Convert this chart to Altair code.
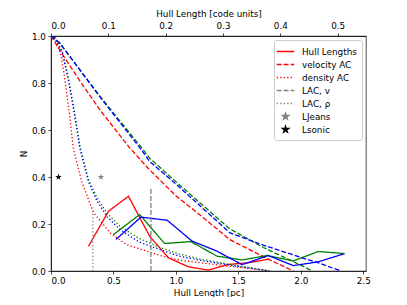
import altair as alt
import pandas as pd

FONT = "DejaVu Sans"

# ---------------- data ----------------
# Hull length distributions (solid)
hull_red_x = [0.30, 0.46, 0.62, 0.79, 0.94, 1.10, 1.26, 1.42, 1.58, 1.74]
hull_red_n = [0.105, 0.254, 0.318, 0.148, 0.056, 0.018, 0.004, 0.028, 0.035, 0.050]
hull_green_x = [0.50, 0.71, 0.91, 1.12, 1.33, 1.53, 1.73, 1.94, 2.14, 2.35]
hull_green_n = [0.155, 0.240, 0.117, 0.125, 0.063, 0.047, 0.066, 0.043, 0.083, 0.074]
hull_blue_x = [0.52, 0.72, 0.93, 1.13, 1.33, 1.53, 1.74, 1.94, 2.14, 2.35]
hull_blue_n = [0.134, 0.229, 0.216, 0.127, 0.084, 0.027, 0.066, 0.023, 0.039, 0.074]

# velocity autocorrelation (dashed)
vel_red_x = [0.0, 0.10, 0.23, 0.40, 0.63, 0.79, 1.00, 1.22, 1.43, 1.60, 1.80, 1.94]
vel_red_n = [1.0, 0.915, 0.81, 0.68, 0.524, 0.43, 0.32, 0.227, 0.134, 0.088, 0.035, 0.0]
vel_green_x = [0.0, 0.07, 0.39, 0.71, 0.79, 1.00, 1.33, 1.43, 1.70, 2.00, 2.09]
vel_green_n = [1.0, 0.97, 0.745, 0.535, 0.48, 0.38, 0.226, 0.18, 0.10, 0.025, 0.0]
vel_blue_x = [0.0, 0.07, 0.39, 0.71, 0.79, 1.00, 1.33, 1.43, 1.70, 2.00, 2.15, 2.32]
vel_blue_n = [1.0, 0.97, 0.742, 0.525, 0.466, 0.37, 0.212, 0.163, 0.11, 0.058, 0.033, 0.0]

# density autocorrelation (dotted)
den_red_x = [0.0, 0.03, 0.08, 0.112, 0.15, 0.179, 0.246, 0.339, 0.473, 0.607, 0.873, 1.03, 1.20, 1.43, 1.60, 1.75]
den_red_n = [1.0, 0.99, 0.92, 0.813, 0.66, 0.52, 0.38, 0.25, 0.162, 0.112, 0.066, 0.046, 0.035, 0.02, 0.01, 0.0]
den_green_x = [0.0, 0.03, 0.09, 0.14, 0.19, 0.232, 0.30, 0.37, 0.45, 0.553, 0.70, 0.873, 1.03, 1.20, 1.43, 1.60, 1.75]
den_green_n = [1.0, 0.995, 0.935, 0.82, 0.67, 0.53, 0.39, 0.31, 0.245, 0.19, 0.14, 0.10, 0.072, 0.05, 0.028, 0.014, 0.0]
den_blue_x = [0.0, 0.03, 0.09, 0.139, 0.19, 0.232, 0.30, 0.366, 0.45, 0.553, 0.70, 0.873, 1.03, 1.20, 1.43, 1.60, 1.75]
den_blue_n = [1.0, 0.995, 0.93, 0.813, 0.66, 0.52, 0.38, 0.30, 0.23, 0.176, 0.125, 0.091, 0.063, 0.045, 0.025, 0.012, 0.0]

# characteristic lengths
lac_names = ["LAC, v", "LAC, ρ"]
lac_x = [0.80, 0.335]
lac_top = [0.35, 0.27]
star_names = ["LJeans", "Lsonic"]
star_x = [0.40, 0.06]
star_n = [0.40, 0.40]

# axes
x_max_pc = 2.522
x_max_code = 0.5494
x_ticks = [0.0, 0.5, 1.0, 1.5, 2.0, 2.5]
top_ticks = [0.0, 0.1, 0.2, 0.3, 0.4, 0.5]
y_ticks = [0.0, 0.2, 0.4, 0.6, 0.8, 1.0]

entries = ["Hull Lengths", "velocity AC", "density AC", "LAC, v", "LAC, ρ", "LJeans", "Lsonic"]

# ---------------- styles ----------------
RED, GREEN, BLUE, GRAY, BLACK = "#ff0000", "#008000", "#0000ff", "#808080", "#000000"
SOLID, DASHED, DOTTED = [1, 0], [4.9, 2.1], [1.3, 2.2]
LW = 1.3
LINE_PATH = "M-1.6,0L1.6,0"
s = 0.6
star_pts = [(0, -1), (0.2245, -0.309), (0.951, -0.309), (0.363, 0.118), (0.588, 0.809),
            (0, 0.382), (-0.588, 0.809), (-0.363, 0.118), (-0.951, -0.309), (-0.2245, -0.309)]
STAR_PATH = "M" + "L".join(f"{px*s:.4f},{py*s:.4f}" for px, py in star_pts) + "Z"

entry_colors = [RED, RED, RED, GRAY, GRAY, GRAY, BLACK]
entry_dashes = [SOLID, DASHED, DOTTED, DASHED, DOTTED, SOLID, SOLID]
entry_shapes = [LINE_PATH] * 5 + [STAR_PATH] * 2


def frame(xs, ns, entry):
    return pd.DataFrame({"x": xs, "N": ns, "entry": entry})


xscale = alt.Scale(domain=[0, x_max_pc], nice=False, zero=False)
yscale = alt.Scale(domain=[0, 1], nice=False, zero=False)
X = alt.X("x:Q", scale=xscale,
          axis=alt.Axis(title="Hull Length [pc]", values=x_ticks, format=".1f"))
Y = alt.Y("N:Q", scale=yscale,
          axis=alt.Axis(title="N", values=y_ticks, format=".1f"))

legend = alt.Legend(
    orient="top-right", offset=4, padding=5, rowPadding=1,
    symbolSize=121, symbolStrokeWidth=LW, labelOffset=10,
    labelFontSize=8.8, labelFont=FONT, labelColor="black",
    strokeColor="#cccccc", fillColor="rgba(255,255,255,0.8)", cornerRadius=2.5,
)
color_enc = alt.Color("entry:N", title=None,
                      scale=alt.Scale(domain=entries, range=entry_colors), legend=legend)
dash_enc = alt.StrokeDash("entry:N", title=None,
                          scale=alt.Scale(domain=entries, range=entry_dashes), legend=legend)
shape_enc = alt.Shape("entry:N", title=None,
                      scale=alt.Scale(domain=entries, range=entry_shapes), legend=legend)

red_df = pd.concat([
    frame(hull_red_x, hull_red_n, "Hull Lengths"),
    frame(vel_red_x, vel_red_n, "velocity AC"),
    frame(den_red_x, den_red_n, "density AC"),
])
red = alt.Chart(red_df).mark_line(strokeWidth=LW, clip=True).encode(
    x=X, y=Y, color=color_enc, strokeDash=dash_enc)


def plain(xs, ns, col, dash):
    return alt.Chart(frame(xs, ns, "")).mark_line(
        color=col, strokeDash=dash, strokeWidth=LW, clip=True).encode(x=X, y=Y)


greens = [plain(hull_green_x, hull_green_n, GREEN, SOLID),
          plain(vel_green_x, vel_green_n, GREEN, DASHED),
          plain(den_green_x, den_green_n, GREEN, DOTTED)]
blues = [plain(hull_blue_x, hull_blue_n, BLUE, SOLID),
         plain(vel_blue_x, vel_blue_n, BLUE, DASHED),
         plain(den_blue_x, den_blue_n, BLUE, DOTTED)]

rule_df = pd.DataFrame({"x": lac_x, "N": [0.0, 0.0], "N2": lac_top, "entry": lac_names})
rules = alt.Chart(rule_df).mark_rule(strokeWidth=LW).encode(
    x=X, y=Y, y2="N2:Q", color=color_enc, strokeDash=dash_enc)

star_df = pd.DataFrame({"x": star_x, "N": star_n, "entry": star_names})
stars = alt.Chart(star_df).mark_point(filled=True, size=130, opacity=1, strokeWidth=0).encode(
    x=X, y=Y, color=color_enc, shape=shape_enc)

main = alt.layer(red, *greens, *blues, rules, stars)

top_df = pd.DataFrame({"cu": [0.0, x_max_code]})
top = alt.Chart(top_df).mark_point(opacity=0).encode(
    x=alt.X("cu:Q", scale=alt.Scale(domain=[0, x_max_code], nice=False, zero=False),
            axis=alt.Axis(orient="top", title="Hull Length [code units]",
                          values=top_ticks, format=".1f")))

chart = alt.layer(main, top).resolve_scale(x="independent").properties(
    width=315, height=235,
    autosize=alt.AutoSizeParams(type="none"),
    padding={"left": 43, "top": 28, "right": 33, "bottom": 26},
).configure(
    font=FONT
).configure_view(
    stroke="black", strokeWidth=0.7
).configure_axis(
    grid=False, domainColor="black", domainWidth=0.7, tickColor="black", tickWidth=0.7,
    tickSize=3.1, labelPadding=2.5, labelFont=FONT, labelFontSize=8.8, labelColor="black",
    titleFont=FONT, titleFontSize=8.8, titleFontWeight="normal", titleColor="black",
    titlePadding=3,
)

chart.save("out.html", embed_options={"renderer": "svg", "actions": False})
